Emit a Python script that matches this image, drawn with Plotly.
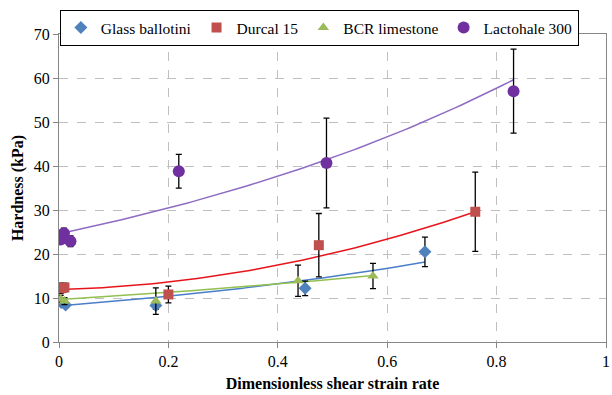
import numpy as np
import plotly.graph_objects as go

# ---- data ----
glass_x = [0.004, 0.012, 0.177, 0.450, 0.669]
glass_y = [9.0, 8.4, 8.3, 12.2, 20.5]
glass_err = [0.6, 0.6, 0.9, 1.65, 3.35]

durcal_x = [0.003, 0.010, 0.200, 0.475, 0.761]
durcal_y = [12.2, 12.4, 10.8, 22.0, 29.6]
durcal_err = [1.2, 1.0, 1.9, 7.2, 9.0]

bcr_x = [0.003, 0.010, 0.177, 0.437, 0.574]
bcr_y = [9.8, 9.3, 9.3, 13.9, 15.0]
bcr_err = [0.8, 0.8, 3.0, 3.55, 2.85]

lacto_x = [0.003, 0.009, 0.021, 0.219, 0.489, 0.831]
lacto_y = [23.3, 24.7, 22.9, 38.8, 40.7, 57.0]
lacto_err = [0.8, 1.2, 1.2, 3.85, 10.2, 9.55]

# trendline coefficients
glass_trend_exp = (8.2, 1.19)          # a*exp(b*x)
durcal_trend_poly = (11.9, 3.5, 26.0)  # a + b*x + c*x^2
bcr_trend_exp = (9.65, 0.78)
lacto_trend_exp = (24.6, 1.065)

x_ticks = [0, 0.2, 0.4, 0.6, 0.8, 1]
x_ticktext = ["0", "0.2", "0.4", "0.6", "0.8", "1"]
y_ticks = [0, 10, 20, 30, 40, 50, 60, 70]

FONT = "'Times New Roman', 'Liberation Serif', 'DejaVu Serif', serif"

series = [
    ("Glass ballotini", glass_x, glass_y, glass_err, "diamond", 10, "#4F81BD", "#4A7EC8",
     ("exp", glass_trend_exp)),
    ("Durcal 15", durcal_x, durcal_y, durcal_err, "square", 10, "#C0504D", "#E8141B",
     ("poly", durcal_trend_poly)),
    ("BCR limestone", bcr_x, bcr_y, bcr_err, "triangle-up", 10, "#9BBB59", "#92C050",
     ("exp", bcr_trend_exp)),
    ("Lactohale 300", lacto_x, lacto_y, lacto_err, "circle", 12, "#7030A0", "#8E6CC4",
     ("exp", lacto_trend_exp)),
]

fig = go.Figure()

# trendlines
for name, xs, ys, es, sym, sz, mcol, lcol, (kind, p) in series:
    tx = np.linspace(min(xs), max(xs), 80)
    if kind == "exp":
        ty = p[0] * np.exp(p[1] * tx)
    else:
        ty = p[0] + p[1] * tx + p[2] * tx ** 2
    fig.add_trace(go.Scatter(x=tx, y=ty, mode="lines", line=dict(color=lcol, width=1.5),
                             showlegend=False, hoverinfo="skip"))

# markers with error bars
for name, xs, ys, es, sym, sz, mcol, lcol, _ in series:
    fig.add_trace(go.Scatter(
        x=xs, y=ys, mode="markers", name=name,
        marker=dict(symbol=sym, size=sz, color=mcol, line=dict(width=0)),
        error_y=dict(type="data", array=es, visible=True, color="black",
                     thickness=1.3, width=3),
    ))

axis_common = dict(
    showgrid=True, gridcolor="#BFBFBF", griddash="dash", gridwidth=1,
    showline=True, linecolor="#868686", linewidth=1, mirror=True,
    ticks="outside", ticklen=5, tickcolor="#868686",
    tickfont=dict(family=FONT, size=16, color="black"),
    zeroline=False, ticklabeloverflow="allow",
)

fig.update_layout(
    width=612, height=395,
    margin=dict(l=59, r=2, t=34, b=53),
    paper_bgcolor="white", plot_bgcolor="white",
    font=dict(family=FONT, size=16, color="black"),
    xaxis=dict(range=[0, 1], tickvals=x_ticks, ticktext=x_ticktext,
               title=dict(text="<b>Dimensionless shear strain rate</b>",
                          font=dict(family=FONT, size=16), standoff=8),
               **axis_common),
    yaxis=dict(range=[0, 70], tickvals=y_ticks,
               title=dict(text="<b>Hardness (kPa)</b>",
                          font=dict(family=FONT, size=16), standoff=6),
               **axis_common),
    legend=dict(orientation="h", x=0.476, xanchor="center", y=1.078, yanchor="top",
                bgcolor="white", bordercolor="black", borderwidth=1,
                font=dict(family=FONT, size=15.5, color="black"),
                itemwidth=30, tracegroupgap=0),
    showlegend=True,
)

fig.write_html("out.html")
